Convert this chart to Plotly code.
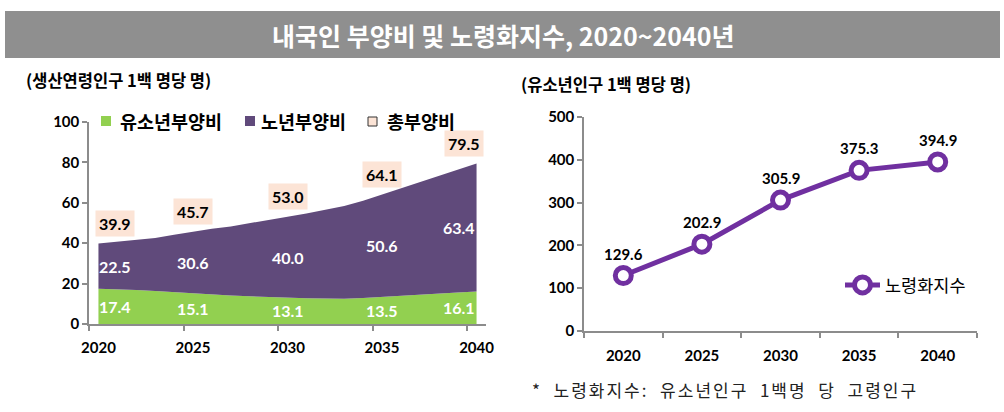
import plotly.graph_objects as go

# ---------------- data ----------------
years = list(range(2020, 2041))
youth = [17.4, 17.2, 16.8, 16.3, 15.7, 15.1, 14.6, 14.1, 13.7, 13.3, 13.1,
         12.8, 12.6, 12.5, 12.9, 13.5, 14.0, 14.5, 15.0, 15.6, 16.1]
old = [22.5, 23.6, 24.7, 26.3, 28.5, 30.6, 32.6, 34.2, 36.1, 38.0, 40.0,
       41.9, 43.9, 45.9, 48.1, 50.6, 52.9, 55.5, 58.3, 60.8, 63.4]
label_years = [2020, 2025, 2030, 2035, 2040]
youth_labels = [17.4, 15.1, 13.1, 13.5, 16.1]
old_labels = [22.5, 30.6, 40.0, 50.6, 63.4]
total_labels = [39.9, 45.7, 53.0, 64.1, 79.5]

aging_years = [2020, 2025, 2030, 2035, 2040]
aging_index = [129.6, 202.9, 305.9, 375.3, 394.9]

tick_years = ["2020", "2025", "2030", "2035", "2040"]

# ---------------- style ----------------
W, H = 1004, 412
GREEN = "#92d050"
PURPLE_AREA = "#604a7b"
PURPLE_LINE = "#7030a0"
PEACH = "#fce4d6"
AXIS = "#8c8c8c"
NUM = "Lato, 'Noto Sans CJK KR', sans-serif"
KR = "'Noto Sans CJK KR', sans-serif"


def px(x):
    return x / W


def py(y):
    return 1 - y / H


fig = go.Figure()

fig.add_trace(go.Scatter(x=years, y=youth, stackgroup="s", mode="lines",
                         line=dict(width=0, color=GREEN), fillcolor=GREEN,
                         showlegend=False, hoverinfo="skip",
                         xaxis="x", yaxis="y"))
fig.add_trace(go.Scatter(x=years, y=old, stackgroup="s", mode="lines",
                         line=dict(width=0, color=PURPLE_AREA), fillcolor=PURPLE_AREA,
                         showlegend=False, hoverinfo="skip",
                         xaxis="x", yaxis="y"))

fig.add_trace(go.Scatter(x=aging_years, y=aging_index, mode="lines+markers",
                         name="노령화지수",
                         line=dict(color=PURPLE_LINE, width=5),
                         marker=dict(symbol="circle", size=16, color="white",
                                     line=dict(color=PURPLE_LINE, width=5)),
                         xaxis="x2", yaxis="y2"))

annotations = []
xsh_total = [17, 0, 0, 0, -13]
xsh_inner = [17, 0, 0, 0, -18]
for i, yr in enumerate(label_years):
    yv = youth_labels[i]
    ov = old_labels[i]
    tv = total_labels[i]
    annotations.append(dict(x=yr, y=tv, xref="x", yref="y", text=f"<b>{tv:.1f}</b>",
                            showarrow=False, yshift=20, xshift=xsh_total[i],
                            xanchor="center", yanchor="middle",
                            bgcolor=PEACH, borderpad=3,
                            font=dict(family=NUM, size=16, color="black")))
    annotations.append(dict(x=yr, y=yv + ov / 2, xref="x", yref="y", text=f"<b>{ov:.1f}</b>",
                            showarrow=False, xshift=xsh_inner[i],
                            xanchor="center", yanchor="middle",
                            font=dict(family=NUM, size=16, color="white")))
    annotations.append(dict(x=yr, y=yv / 2, xref="x", yref="y", text=f"<b>{yv:.1f}</b>",
                            showarrow=False, xshift=xsh_inner[i],
                            xanchor="center", yanchor="middle",
                            font=dict(family=NUM, size=16, color="white")))

for yr, v in zip(aging_years, aging_index):
    annotations.append(dict(x=yr, y=v, xref="x2", yref="y2", text=f"<b>{v:.1f}</b>",
                            showarrow=False, yshift=22, xanchor="center", yanchor="middle",
                            font=dict(family=NUM, size=15, color="black")))

# title
annotations.append(dict(x=px(503), y=py(35), xref="paper", yref="paper",
                        xanchor="center", yanchor="middle",
                        text="<b>내국인 부양비 및 노령화지수, 2020~2040년</b>",
                        showarrow=False, font=dict(family=KR, size=25, color="white")))
# axis titles
annotations.append(dict(x=px(24), y=py(80), xref="paper", yref="paper",
                        xanchor="left", yanchor="middle",
                        text="<b>(생산연령인구 1백 명당 명)</b>", showarrow=False,
                        font=dict(family=KR, size=16.5, color="black")))
annotations.append(dict(x=px(519), y=py(84), xref="paper", yref="paper",
                        xanchor="left", yanchor="middle",
                        text="<b>(유소년인구 1백 명당 명)</b>", showarrow=False,
                        font=dict(family=KR, size=16.5, color="black")))
# left legend
for xx, txt in [(118, "유소년부양비"), (259, "노년부양비"), (385, "총부양비")]:
    annotations.append(dict(x=px(xx), y=py(121), xref="paper", yref="paper",
                            xanchor="left", yanchor="middle",
                            text=f"<b>{txt}</b>", showarrow=False,
                            font=dict(family=KR, size=18.5, color="black")))
# footnote
annotations.append(dict(x=px(530), y=py(389), xref="paper", yref="paper",
                        xanchor="left", yanchor="middle",
                        text='<span style="letter-spacing:2px">*  노령화지수:  유소년인구  1백명  당  고령인구</span>',
                        showarrow=False,
                        font=dict(family=KR, size=17, color="#222222")))

shapes = [
    dict(type="rect", xref="paper", yref="paper", x0=px(5), x1=px(1000),
         y0=py(58), y1=py(11), fillcolor="#8f8f8f", line=dict(width=0), layer="below"),
    dict(type="rect", xref="paper", yref="paper", x0=px(101), x1=px(111),
         y0=py(126), y1=py(116), fillcolor=GREEN, line=dict(width=0)),
    dict(type="rect", xref="paper", yref="paper", x0=px(245), x1=px(255),
         y0=py(126), y1=py(116), fillcolor=PURPLE_AREA, line=dict(width=0)),
    dict(type="rect", xref="paper", yref="paper", x0=px(368), x1=px(377),
         y0=py(126), y1=py(117), fillcolor=PEACH, line=dict(width=1, color="#333333")),
]

axis_common = dict(showline=True, linecolor=AXIS, linewidth=1.5, showgrid=False,
                   zeroline=False, automargin=False,
                   tickfont=dict(family=NUM, size=15, color="black"))

fig.update_layout(
    width=W, height=H, margin=dict(l=0, r=0, t=0, b=0, autoexpand=False),
    paper_bgcolor="white", plot_bgcolor="white",
    annotations=annotations, shapes=shapes,
    showlegend=True,
    legend=dict(x=px(840), y=py(285), xanchor="left", yanchor="middle",
                bgcolor="rgba(0,0,0,0)", font=dict(family=KR, size=17.5, color="black"),
                itemwidth=35),
    xaxis=dict(domain=[px(89), px(486)], range=[2019.5, 2040.5],
               tickmode="array", tickvals=label_years, ticktext=[f"<b>{t}</b>" for t in tick_years],
               ticks="outside", ticklen=9, tickcolor="rgba(0,0,0,0)",
               minor=dict(ticks="outside", ticklen=5, tickcolor=AXIS, tickwidth=1.5,
                          tickmode="linear", tick0=2019.5, dtick=5, showgrid=False),
               anchor="y", **axis_common),
    yaxis=dict(domain=[py(324), py(122)], range=[0, 100], dtick=20,
               tickmode="linear", tick0=0,
               ticks="outside", ticklen=5, tickcolor=AXIS, tickwidth=1.5,
               tickprefix="<b>", ticksuffix="</b>",
               anchor="x", **axis_common),
    xaxis2=dict(domain=[px(584), px(977)], range=[2017.5, 2042.5],
                tickmode="array", tickvals=aging_years, ticktext=[f"<b>{t}</b>" for t in tick_years],
                ticks="outside", ticklen=10, tickcolor="rgba(0,0,0,0)",
                minor=dict(ticks="outside", ticklen=5, tickcolor=AXIS, tickwidth=1.5,
                           tickmode="linear", tick0=2017.5, dtick=5, showgrid=False),
                anchor="y2", **axis_common),
    yaxis2=dict(domain=[py(331), py(117)], range=[0, 500], dtick=100,
                tickmode="linear", tick0=0,
                ticks="outside", ticklen=5, tickcolor=AXIS, tickwidth=1.5,
                tickprefix="<b>", ticksuffix="</b>",
                anchor="x2", **axis_common),
)

fig.write_html("out.html", config={"displayModeBar": False},
               post_script="document.body.style.margin='0';document.body.style.overflow='hidden';")
